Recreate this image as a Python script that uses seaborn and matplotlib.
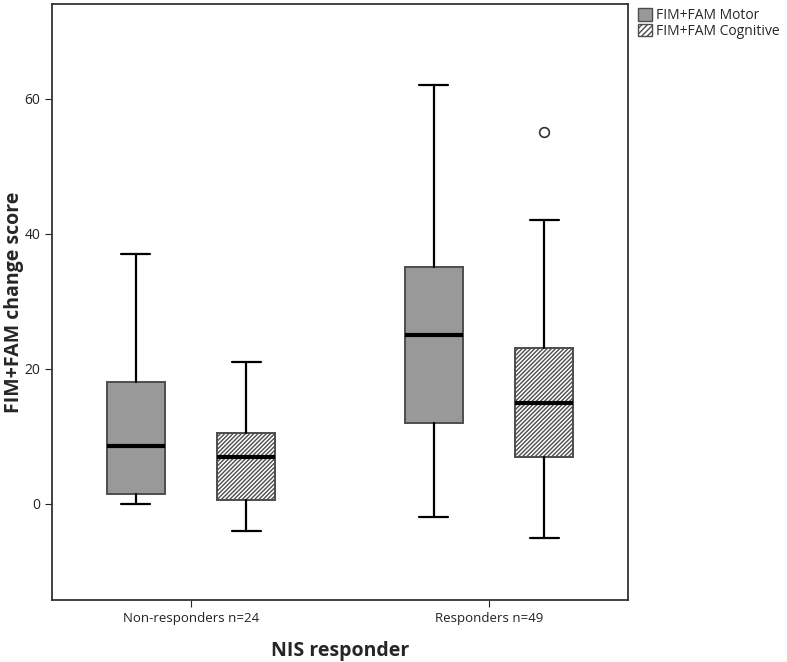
import numpy as np
import seaborn as sns
import matplotlib.pyplot as plt
from matplotlib.patches import Patch

# -----------------------------
# Data
# -----------------------------
groups = ["Non-responders n=24", "Responders n=49"]
measures = ["FIM+FAM Motor", "FIM+FAM Cognitive"]

motor_whislo = [0, -2]
motor_q1 = [1.5, 12]
motor_med = [8.5, 25]
motor_q3 = [18, 35]
motor_whishi = [37, 62]
motor_fliers = [[], []]

cog_whislo = [-4, -5]
cog_q1 = [0.5, 7]
cog_med = [7, 15]
cog_q3 = [10.5, 23]
cog_whishi = [21, 42]
cog_fliers = [[], [55]]

# -----------------------------
# Style
# -----------------------------
sns.set_style("ticks")
plt.rcParams['font.family'] = ['Open Sans', 'DejaVu Sans']
plt.rcParams['hatch.linewidth'] = 1.0
plt.rcParams['hatch.color'] = 'black'

fig = plt.figure(figsize=(7.87, 6.62), dpi=100)
ax = fig.add_axes([0.066, 0.094, 0.732, 0.9])


def make_stats(whislo, q1, med, q3, whishi, fliers):
    return [dict(whislo=a, q1=b, med=c, q3=d, whishi=e, fliers=f)
            for a, b, c, d, e, f in zip(whislo, q1, med, q3, whishi, fliers)]


x = np.arange(len(groups))
offset = 0.185
box_w = 0.195

common = dict(widths=box_w, patch_artist=True, showfliers=True,
              whiskerprops=dict(color='black', lw=1.6),
              capprops=dict(color='black', lw=1.6),
              medianprops=dict(color='black', lw=3),
              flierprops=dict(marker='o', markerfacecolor='white',
                              markeredgecolor='#333333', markersize=7, mew=1.2))

bp1 = ax.bxp(make_stats(motor_whislo, motor_q1, motor_med, motor_q3, motor_whishi, motor_fliers),
             positions=x - offset, **common)
for b in bp1['boxes']:
    b.set_facecolor('#999999')
    b.set_edgecolor('#4d4d4d')
    b.set_linewidth(1.4)

bp2 = ax.bxp(make_stats(cog_whislo, cog_q1, cog_med, cog_q3, cog_whishi, cog_fliers),
             positions=x + offset, **common)
for b in bp2['boxes']:
    b.set_facecolor('white')
    b.set_edgecolor('#4d4d4d')
    b.set_hatch('////////')
    b.set_linewidth(1.4)

ax.set_xlim(-0.466, 1.466)
ax.set_ylim(-14.2, 74)
ax.set_xticks(x)
ax.set_xticklabels(groups, fontsize=9.5, color='#222222')
ax.set_yticks([0, 20, 40, 60])
ax.tick_params(axis='y', labelsize=10, colors='#222222', length=5)
ax.tick_params(axis='x', length=5)
for s in ax.spines.values():
    s.set_visible(True)
    s.set_color('#333333')
    s.set_linewidth(1.3)

ax.set_xlabel("NIS responder", fontsize=14, fontweight='bold', labelpad=12)
ax.set_ylabel("FIM+FAM change score", fontsize=14, fontweight='bold', va='center')
ax.yaxis.set_label_coords(-0.066, 0.5)

handles = [Patch(facecolor='#999999', edgecolor='#4d4d4d', label=measures[0]),
           Patch(facecolor='white', edgecolor='#4d4d4d', hatch='//////', label=measures[1])]
fig.legend(handles=handles, loc='upper left', bbox_to_anchor=(0.8, 1.0),
           frameon=False, fontsize=10, handlelength=1.0, handleheight=1.0,
           handletextpad=0.3, labelspacing=0.05, borderaxespad=0.2)

fig.savefig("out.png", dpi=100)
